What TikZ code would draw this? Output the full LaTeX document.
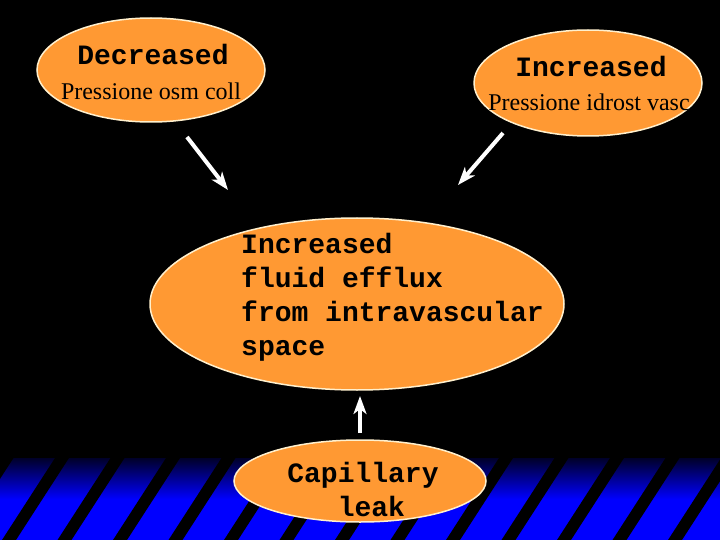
\documentclass[tikz,border=0pt]{standalone}
\usepackage{fontspec}
\setmainfont{Liberation Serif}
\setmonofont{Liberation Mono}
\usetikzlibrary{arrows.meta,shapes.geometric}

\definecolor{blobfill}{RGB}{255,153,51}
\definecolor{blobedge}{RGB}{255,240,205}
\definecolor{bandtop}{RGB}{0,0,40}
\definecolor{bandblue}{RGB}{0,0,255}

\begin{document}
\begin{tikzpicture}[x=1pt, y=-1pt, >={Stealth[length=18pt, width=13pt, inset=5pt]},
  blob/.style={ellipse, draw=blobedge, line width=1.5pt, fill=blobfill, inner sep=0pt},
  headtxt/.style={font=\fontsize{28}{34}\selectfont\ttfamily\bfseries, inner sep=0pt},
  subtxt/.style={font=\fontsize{24}{28}\selectfont, inner sep=0pt},
  flow/.style={->, white, line width=4pt}
  ]

\useasboundingbox (0,0) rectangle (720,540);
\fill[black] (0,0) rectangle (720,540);

% Striped band at the bottom
\begin{scope}
  \clip (0,458) rectangle (720,540);
  \shade[top color=bandtop, bottom color=bandblue, middle color=bandblue] (0,458) rectangle (720,540);
  \foreach \k in {-1,...,12}
    \fill[black] ({55+55.5*\k},458) -- ({69+55.5*\k},458) -- ({16+55.5*\k},540) -- ({2+55.5*\k},540) -- cycle;
\end{scope}

% Top causes
\node[blob, minimum width=228pt, minimum height=104pt] (decr) at (151,70) {};
\node[headtxt, anchor=base] (decrhead) at (153,65) {Decreased};
\node[subtxt, anchor=base] (decrsub) at (151,100) {Pressione osm coll};

\node[blob, minimum width=228pt, minimum height=106pt] (incr) at (588,83) {};
\node[headtxt, anchor=base] (incrhead) at (591,77) {Increased};
\node[subtxt, anchor=base] (incrsub) at (589,111) {Pressione idrost vasc};

% Central effect
\node[blob, minimum width=414pt, minimum height=172pt] (efflux) at (357,304) {};
\node[headtxt, align=left, anchor=north west] (effluxtxt) at (241,233) {Increased\\fluid efflux\\from intravascular\\space};

% Bottom cause
\node[blob, minimum width=252pt, minimum height=82pt] (leak) at (360,481) {};
\node[headtxt, align=center, anchor=north] (leaktxt) at (363,462) {Capillary\\\hphantom{l}leak};

% Arrows
\coordinate (lefttail) at (187,137);
\coordinate (lefthead) at (228,190);
\coordinate (righttail) at (503,133);
\coordinate (righthead) at (458,185);
\coordinate (uptail) at (360,433);
\coordinate (uphead) at (360,396);

\draw[flow] (lefttail) -- (lefthead);
\draw[flow] (righttail) -- (righthead);
\draw[flow] (uptail) -- (uphead);

\end{tikzpicture}
\end{document}
